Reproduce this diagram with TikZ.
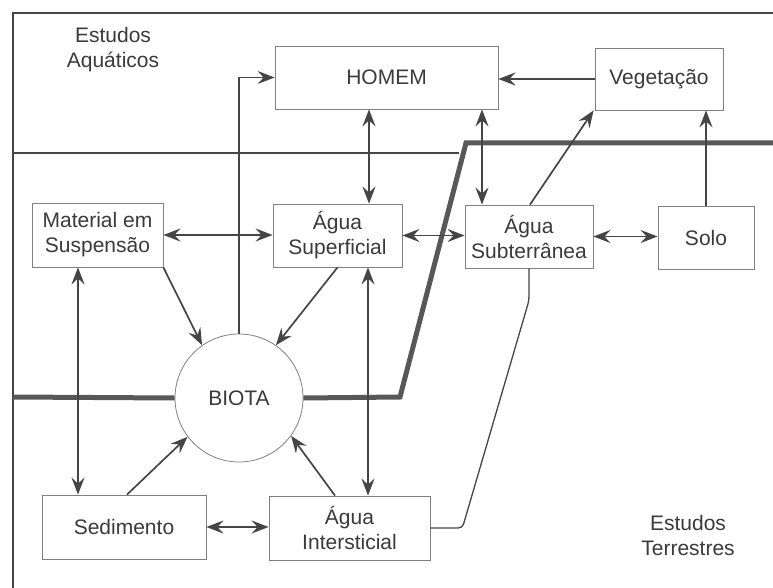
\documentclass[tikz,border=0pt]{standalone}
\usepackage{fontspec}
\setmainfont{Liberation Sans}
\usetikzlibrary{arrows.meta}
\definecolor{ink}{HTML}{3A3A3A}
\definecolor{boxc}{HTML}{808080}
\definecolor{linec}{HTML}{454545}
\begin{document}
\begin{tikzpicture}[x=1pt,y=-1pt,
  font=\fontsize{21}{25}\selectfont, text=ink,
  boxn/.style={draw=boxc, line width=0.8pt, rectangle, inner sep=0pt, align=center},
  conn/.style={draw=linec, line width=1.7pt},
  tip/.style={},
  arr/.style={conn, -{Stealth[length=17pt,width=13pt,inset=6pt]}},
  darr/.style={conn, {Stealth[length=17pt,width=13pt,inset=6pt]}-{Stealth[length=17pt,width=13pt,inset=6pt]}},
  border/.style={draw=linec, line width=1.8pt},
  divide/.style={draw=linec!90, line width=5pt, line join=miter},
  lbl/.style={align=center, inner sep=0pt}
]
\useasboundingbox (0,0) rectangle (773,588);

% frame
\draw[border] (13,588) -- (13,13) -- (773,13);
\draw[conn, line width=1.6pt] (13,153) -- (459,153);

% nodes
\node[boxn, minimum width=223pt, minimum height=63pt] (homem) at (386.5,77.5) {HOMEM};
\node[boxn, minimum width=128pt, minimum height=62pt] (veg) at (659,79) {Vegetação};
\node[boxn, minimum width=131pt, minimum height=64pt] (mat) at (97.5,235) {Material em\\Suspensão};
\node[boxn, minimum width=129pt, minimum height=63pt] (sup) at (337.5,235.5) {Água\\Superficial};
\node[boxn, minimum width=128pt, minimum height=63pt] (sub) at (529,236.5) {Água\\Subterrânea};
\node[boxn, minimum width=96pt, minimum height=63pt] (solo) at (706,237.5) {Solo};
\node[draw=boxc, line width=0.8pt, circle, minimum size=128pt, inner sep=0pt] (biota) at (239,398) {BIOTA};
\node[boxn, minimum width=164pt, minimum height=64pt] (sed) at (124,527) {Sedimento};
\node[boxn, minimum width=161pt, minimum height=64pt] (int) at (349.5,528) {Água\\Intersticial};

\node[lbl] (aq) at (113,50) {Estudos\\Aquáticos};
\node[lbl] (ter) at (688,535) {Estudos\\Terrestres};

% dividing thick line
\draw[divide] (13,397) -- (biota.west);
\draw[divide] (biota.east) -- (400,397) -- (466,143) -- (773,143);

% connectors
\draw[arr] (biota.north) |- (homem.west);
\draw[darr] ([xshift=-17.5pt]homem.south) -- ([xshift=31.5pt]sup.north);
\draw[darr] ([xshift=95.5pt]homem.south) -- ([xshift=-47pt]sub.north);
\draw[arr] (veg.west) -- (veg.west -| homem.east);
\draw[arr] ([xshift=1pt]sub.north) -- ([xshift=-1pt]veg.south west);
\draw[arr] (solo.north) -- (solo.north |- veg.south);
\draw[darr] (sub.east) -- (sub.east -| solo.west);
\draw[darr] (sup.east) -- (sup.east -| sub.west);
\draw[darr] (mat.east) -- (mat.east -| sup.west);
\draw[arr] (mat.south east) -- (biota.125);
\draw[arr] (sup.south) -- (biota.55);
\draw[arr] ([xshift=3pt]sed.north) -- (biota.217);
\draw[arr] ([xshift=-14.5pt]int.north) -- (biota.-36);
\draw[darr] ([xshift=-19.5pt]mat.south) -- ([xshift=-46pt]sed.north);
\draw[darr] ([xshift=30.5pt]sup.south) -- ([xshift=18.5pt]int.north);
\draw[darr] (sed.east) -- (sed.east -| int.west);
\draw[conn, line width=1.3pt, rounded corners=4pt] (sub.south) -- ++(0,32) -- ([xshift=32pt]int.east) -- (int.east);
\end{tikzpicture}
\end{document}
